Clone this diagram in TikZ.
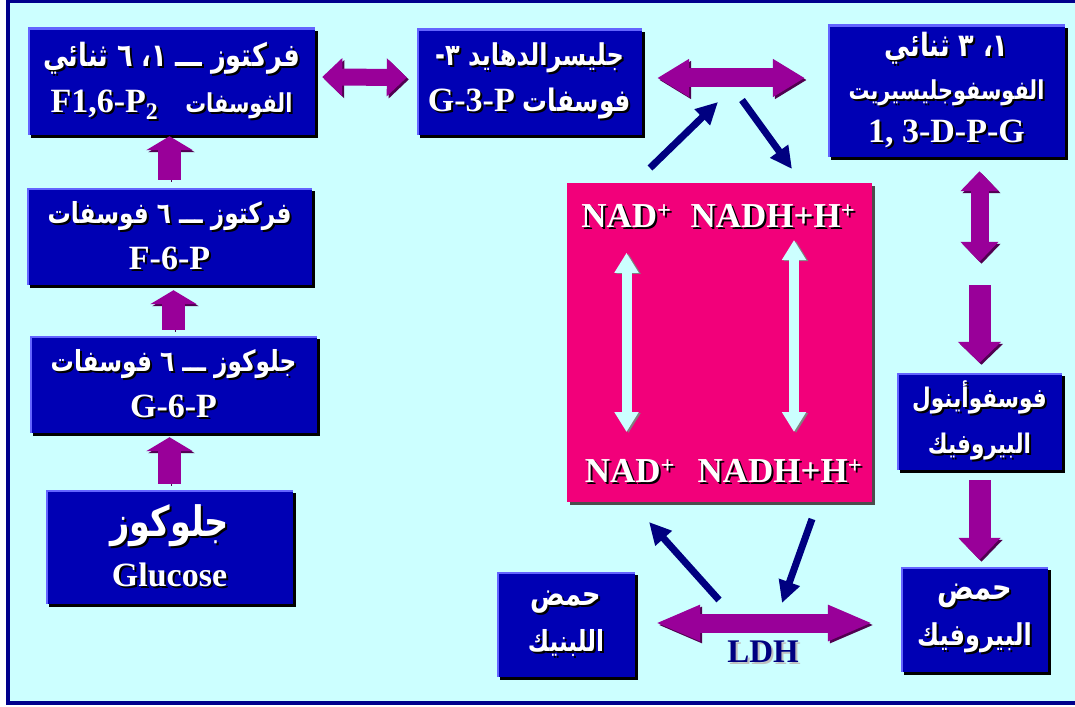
\documentclass[tikz,border=0pt]{standalone}
\usepackage{fontspec}
\setmainfont{Liberation Serif}
\newfontfamily\arfont[Script=Arabic, FakeStretch=0.8]{DejaVu Sans}
\TeXXeTstate=1
\usetikzlibrary{arrows.meta,shadows}

\definecolor{bgcyan}{RGB}{204,255,255}
\definecolor{framenavy}{RGB}{0,0,140}
\definecolor{boxblue}{RGB}{0,0,180}
\definecolor{edgeblue}{RGB}{100,100,255}
\definecolor{pinkred}{RGB}{242,0,122}
\definecolor{arrowpurple}{RGB}{153,0,153}
\definecolor{arrowshade}{RGB}{80,0,80}
\definecolor{navyarrow}{RGB}{0,0,128}

\newcommand{\shtext}[2][black]{\leavevmode\rlap{\kern2pt\raisebox{-2pt}{\color{#1}#2}}#2}
\newcommand{\ar}[2][30]{{\arfont\fontsize{#1}{46}\selectfont\beginR #2\endR}}

\tikzset{
  box/.style={fill=boxblue, text=white, font=\bfseries\fontsize{34}{46}\selectfont,
    align=center, inner sep=0pt,
    drop shadow={shadow xshift=3pt, shadow yshift=-3pt, opacity=1, fill=black},
    path picture={\draw[line width=4pt, edgeblue] (path picture bounding box.south west)
      -- (path picture bounding box.north west) -- (path picture bounding box.north east);}},
  fat/.style n args={3}{draw=arrowpurple, line width=#1pt,
    -{Triangle[length=#2pt, width=#3pt]},
    preaction={draw=arrowshade, transform canvas={shift={(2pt,-2pt)}}}},
  fatboth/.style n args={3}{draw=arrowpurple, line width=#1pt,
    {Triangle[length=#2pt, width=#3pt]}-{Triangle[length=#2pt, width=#3pt]},
    preaction={draw=arrowshade, transform canvas={shift={(2pt,-2pt)}}}},
  navyarr/.style={draw=navyarrow, line width=7pt, -{Triangle[length=22pt, width=21pt]}},
  pale/.style={draw=bgcyan, line width=10pt,
    {Triangle[length=20pt, width=23pt]}-{Triangle[length=20pt, width=23pt]},
    preaction={draw=gray, transform canvas={shift={(2pt,-1pt)}}}},
  nad/.style={text=white, font=\bfseries\fontsize{35}{40}\selectfont, inner sep=0pt}
}

\begin{document}
\begin{tikzpicture}[x=1pt, y=-1pt]
  \useasboundingbox (0,0) rectangle (1075,706);
  \clip (0,0) rectangle (1075,706);
  \fill[white] (0,0) rectangle (1075,706);
  \draw[framenavy, line width=4pt, fill=bgcyan] (8,1) rectangle (1090,703);

  % left column
  \node[box, minimum width=287, minimum height=107] (f16p) at (171.5,81.5)
    {\shtext{\ar[32]{فركتوز ـــ ١، ٦ ثنائي}}\\
     \shtext{F1,6-P\textsubscript{2}}\hspace{27pt}\shtext{\ar[26]{الفوسفات}}};
  \node[box, minimum width=285, minimum height=97] (f6p) at (169.5,236.5)
    {\shtext{\ar[29]{فركتوز ـــ ٦ فوسفات}}\\ \shtext{F-6-P}};
  \node[box, minimum width=287, minimum height=97] (g6p) at (173.5,384.5)
    {\shtext{\ar[29]{جلوكوز ـــ ٦ فوسفات}}\\ \shtext{G-6-P}};
  \node[box, minimum width=247, minimum height=114, font=\bfseries\fontsize{34}{50}\selectfont]
    (glu) at (169.5,547)
    {\shtext{\ar[42]{جلوكوز}}\\ \shtext{Glucose}};

  % top row
  \node[box, minimum width=225, minimum height=106] (g3p) at (529.5,82)
    {\shtext{\ar[30]{جليسرالدهايد ٣-}}\\
     \shtext{G-3-P}\hspace{8pt}\shtext{\ar[31]{فوسفات}}};
  \node[box, minimum width=237, minimum height=132, font=\bfseries\fontsize{34}{43}\selectfont]
    (dpg) at (946.5,91)
    {\shtext{\ar[32]{١، ٣ ثنائي}}\\ \shtext{\ar[26]{الفوسفوجليسيريت}}\\ \shtext{1, 3-D-P-G}};

  % right column
  \node[box, minimum width=165, minimum height=97] (pep) at (979.5,421.5)
    {\shtext{\ar[27]{فوسفوأينول}}\\ \shtext{\ar[27]{البيروفيك}}};
  \node[box, minimum width=147, minimum height=105] (pyr) at (974.5,619.5)
    {\shtext{\ar[34]{حمض}}\\ \shtext{\ar[30]{البيروفيك}}};
  \node[box, minimum width=138, minimum height=105] (lac) at (566,624.5)
    {\shtext{\ar[32]{حمض}}\\ \shtext{\ar[29]{اللبنيك}}};

  % coenzyme box
  \node[fill=pinkred, minimum width=305, minimum height=319, inner sep=0pt,
    drop shadow={shadow xshift=3pt, shadow yshift=-3pt, opacity=1, fill=black!70}]
    (redox) at (719.5,342.5) {};
  \node[nad] (nadt) at (626.5,217) {\shtext{NAD\textsuperscript{+}}};
  \node[nad] (nadht) at (773,217) {\shtext{NADH+H\textsuperscript{+}}};
  \node[nad] (nadb) at (630,472) {\shtext{NAD\textsuperscript{+}}};
  \node[nad] (nadhb) at (780,472) {\shtext{NADH+H\textsuperscript{+}}};
  \coordinate (rt) at ([xshift=21pt]nadht.center);

  \draw[pale, shorten <=23pt, shorten >=40pt] (nadt) -- (nadt |- nadb);
  \draw[pale, shorten <=23pt, shorten >=40pt] (rt) -- (rt |- nadhb);

  \node[text=navyarrow, font=\bfseries\fontsize{33}{36}\selectfont] (ldh) at (763,653)
    {\shtext[black!25]{LDH}};

  % fat arrows
  \draw[fat={23}{14}{46}, shorten <=6pt, shorten >=4pt] (glu.north) -- (glu.north |- g6p.south);
  \draw[fat={23}{14}{46}, shorten <=6pt, shorten >=5pt] (g6p.north) -- (g6p.north |- f6p.south);
  \draw[fat={23}{14}{46}, shorten <=8pt, shorten >=1pt] (f6p.north) -- (f6p.north |- f16p.south);
  \draw[fatboth={17}{20}{37}, shorten <=7pt, shorten >=10pt]
    ([yshift=4.5pt]f16p.east) -- ([yshift=4.5pt]g3p.west);
  \draw[fatboth={19}{32}{36}, shorten <=15pt, shorten >=23pt]
    ([yshift=4pt]g3p.east) -- ([yshift=4pt]g3p.east -| dpg.west);
  \draw[fatboth={18}{20}{37}, shorten <=14pt, shorten >=111pt] (dpg.south -| pep.north) -- (pep.north);
  \draw[fat={22}{21}{42}, shorten <=128pt, shorten >=10pt] (dpg.south -| pep.north) -- (pep.north);
  \draw[fat={22}{22}{41}, shorten <=10pt, shorten >=7pt] (pep.south) -- (pep.south |- pyr.north);
  \draw[fatboth={19}{45}{33}, shorten <=20pt, shorten >=28pt]
    ([yshift=1.5pt]lac.east) -- ([yshift=1.5pt]lac.east -| pyr.west);

  % navy arrows
  \coordinate (up1) at (650,168);
  \coordinate (up2) at (718,102);
  \coordinate (dn1) at (742,100);
  \coordinate (dn2) at (792,169);
  \coordinate (lo1) at (719,600);
  \coordinate (lo2) at (649,522);
  \coordinate (lo3) at (812,519);
  \coordinate (lo4) at (782,603);
  \draw[navyarr] (up1) -- (up2);
  \draw[navyarr] (dn1) -- (dn2);
  \draw[navyarr] (lo1) -- (lo2);
  \draw[navyarr] (lo3) -- (lo4);
\end{tikzpicture}
\end{document}
